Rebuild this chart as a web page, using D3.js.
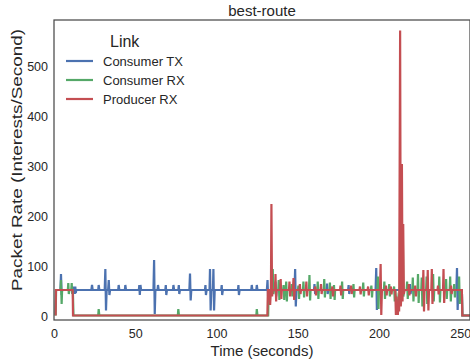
<!DOCTYPE html>
<html>
<head>
<meta charset="utf-8">
<script src="https://cdn.jsdelivr.net/npm/d3@7"></script>
<style>
  body { margin: 0; background: #fff; }
  svg { display: block; font-family: "Liberation Sans", Arial, sans-serif; }
</style>
</head>
<body>
<svg id="chart" width="470" height="362"></svg>
<script>
// Series, as [time (s), packet rate] vertices.
const consumerTx = [
  [1,53],[4,53],[4.3,85],[4.7,43],[5,53],[11,53],[11.3,60],[11.6,45],[11.9,60],[12.2,45],[12.5,60],[12.8,45],[13.1,60],[13.4,47],[13.7,53],
  [23,53],[23.4,63],[23.8,53],[27.2,53],[27.5,63],[27.9,53],
  [31.2,53],[31.6,95],[32,12],[32.4,53],[33.3,53],[33.7,73],[34.1,43],[34.5,53],
  [39.5,53],[39.8,63],[40.2,53],[43.6,53],[43.9,63],[44.3,53],
  [52.2,53],[52.5,63],[52.8,43],[53.2,63],[53.6,53],
  [61.2,53],[61.6,113],[62,5],[62.4,53],[63.7,53],[64,63],[64.4,53],
  [68.5,53],[68.8,63],[69.1,43],[69.5,53],[73.2,53],[73.5,63],[73.9,53],
  [76.5,53],[76.8,63],[77.1,45],[77.5,53],[83.3,53],[83.7,86],[84.1,32],[84.5,53],
  [92.9,53],[93.2,63],[93.5,43],[93.9,53],[95.7,53],[96,95],[96.4,12],[96.8,53],
  [97.8,53],[98.1,95],[98.5,12],[98.9,53],[102.9,53],[103.2,63],[103.5,43],[103.9,53],
  [113.2,53],[113.5,63],[113.8,43],[114.2,53],[121.4,53],[121.7,63],[122.1,53],
  [124.5,53],[124.8,63],[125.2,53],[131,53],[131.4,73],[131.8,35],[132.2,53],
  [136,53],[136.3,70],[136.7,40],[137,53],[148,53],[148.4,95],[148.8,20],[149.2,53],
  [160,53],[160.3,65],[160.7,45],[161,53],[167.7,53],[168,66],[168.4,45],[168.8,53],
  [181,53],[181.3,63],[181.7,45],[182,53],[197.9,53],[198.3,97],[198.7,13],[199.1,53],
  [218.7,53],[219,65],[219.4,45],[219.8,53],[247.6,53],[248,97],[248.4,13],[248.8,53],
  [251,53],[251.3,2],[257.5,2]
];

const consumerRx = [
  [1,2],[1.3,53],[4,53],[4.3,73],[4.7,25],[5,53],[8.5,53],[8.8,67],[9.1,45],[9.5,53],
  [10.6,53],[10.9,67],[11.2,45],[11.6,53],[12,2],[27.2,2],[27.5,15],[27.9,2],
  [76.2,2],[76.5,15],[76.9,2],[124.5,2],[124.8,15],[125.2,2],[131.8,2],[132.1,53],
  [134.2,53],[134.6,95],[135,45],[135.4,53],[138,53],[138.3,73],[138.7,33],[139,53],
  [141,53],[141.3,63],[141.7,33],[142,53],[142.6,53],[142.9,70],[143.3,30],[143.6,53],
  [146,53],[146.3,65],[146.7,40],[147,53],[150.1,53],[150.4,62],[150.8,35],[151.1,53],
  [153.2,53],[153.5,70],[153.9,38],[154.2,53],[156.9,53],[157.2,83],[157.6,32],[157.9,53],
  [162,53],[162.3,70],[162.7,35],[163,53],[166,53],[166.3,75],[166.7,38],[167,53],
  [169.5,53],[169.8,68],[170.2,35],[170.5,53],[172,53],[172.3,63],[172.7,33],[173,53],
  [177,53],[177.3,70],[177.7,35],[178,53],[184,53],[184.3,65],[184.7,38],[185,53],
  [190,53],[190.3,68],[190.7,40],[191,53],[195,53],[195.3,62],[195.7,38],[196,53],
  [199,53],[199.3,80],[199.7,15],[200,53],[203,53],[203.3,70],[203.7,35],[204,53],
  [206,53],[206.3,65],[206.7,40],[207,53],[209,53],[209.3,60],[209.7,30],[210,53],
  [211.2,3],[212,40],[213.5,30],[214.6,185],[215,40],[215.5,53],
  [217,53],[217.3,70],[217.7,35],[218,53],[220.5,53],[220.8,78],[221.2,30],[221.5,53],
  [223.7,53],[224,85],[224.4,27],[224.7,53],[226,53],[226.3,78],[226.7,20],[227,53],
  [229,53],[229.3,80],[229.7,25],[230,53],[233,53],[233.3,85],[233.7,30],[234,53],
  [236.8,53],[237.1,80],[237.5,28],[237.8,53],[241,53],[241.3,75],[241.7,35],[242,53],
  [243.5,53],[243.8,80],[244.2,30],[244.5,53],[246,53],[246.3,65],[246.7,38],[247,53],
  [249,53],[249.3,80],[249.7,25],[250,53],[251,53],[251.3,2],[257.5,2]
];

const producerRx = [
  [1,2],[1.2,53],[11.5,53],[11.7,2],[131.3,2],[131.6,53],[132.6,53],[133,23],[133.5,53],
  [133.8,225],[134.2,40],[134.6,53],[136,53],[136.3,85],[136.7,30],[137,53],
  [139.2,53],[139.5,75],[139.9,35],[140.2,53],[144.6,53],[144.9,70],[145.3,40],[145.6,53],
  [147,53],[147.4,77],[147.8,33],[148.2,53],[151,53],[151.3,65],[151.7,45],[152,53],
  [155,53],[155.3,70],[155.7,40],[156,53],[160.5,53],[160.8,60],[161.2,42],[161.5,53],
  [164,53],[164.3,65],[164.7,45],[165,53],[171,53],[171.3,60],[171.7,40],[172,53],
  [176,53],[176.3,62],[176.7,42],[177,53],[182.5,53],[182.8,62],[183.2,45],[183.5,53],
  [188,53],[188.3,60],[188.7,44],[189,53],[193,53],[193.3,60],[193.7,42],[194,53],
  [200.6,53],[201,105],[201.4,3],[201.8,53],[204,53],[204.3,62],[204.7,42],[205,53],
  [207,53],[207.3,60],[207.7,44],[208,53],
  [210,53],[210.4,3],[210.8,40],[211.2,20],[211.6,3],[212,30],[212.4,10],[213,572],
  [213.4,20],[213.8,40],[214.1,305],[214.5,30],[214.9,185],[215.3,45],[215.7,53],
  [218,53],[218.3,65],[218.7,42],[219,53],[222,53],[222.3,62],[222.7,40],[223,53],
  [227,53],[227.3,93],[227.7,10],[228,53],[229.7,53],[230,93],[230.4,12],[230.8,53],
  [232.2,53],[232.5,95],[232.9,25],[233.3,53],[236,53],[236.3,62],[236.7,44],[237,53],
  [239.4,53],[239.7,95],[240.1,27],[240.5,53],[244,53],[244.3,62],[244.7,45],[245,53],
  [251,53],[251.3,2],[257.5,2]
];

const seriesNames = ["Consumer TX", "Consumer RX", "Producer RX"];
const seriesColors = ["#4c72b0", "#55a868", "#c44e52"];
const xTicks = [0, 50, 100, 150, 200, 250];
const yTicks = [0, 100, 200, 300, 400, 500];

const svg = d3.select("#chart");
const margin = { top: 20, right: 0, bottom: 42, left: 54 };
const width = 470 - margin.left - margin.right;
const height = 362 - margin.top - margin.bottom;
const textColor = "#262626";

const x = d3.scaleLinear().domain([0, 256]).range([0, width]);
const y = d3.scaleLinear().domain([-7, 593]).range([height, 0]);

const g = svg.append("g").attr("transform", `translate(${margin.left},${margin.top})`);

svg.append("defs").append("clipPath").attr("id", "plot-clip")
  .append("rect").attr("width", width).attr("height", height);

// Axes: labels only, no tick marks (seaborn white style).
const xAxis = g.append("g").attr("transform", `translate(0,${height})`)
  .call(d3.axisBottom(x).tickValues(xTicks).tickSize(0).tickPadding(9));
const yAxis = g.append("g")
  .call(d3.axisLeft(y).tickValues(yTicks).tickSize(0).tickPadding(6));
[xAxis, yAxis].forEach(a => {
  a.select(".domain").remove();
  a.selectAll("text").attr("fill", textColor).style("font-size", "12.5px")
    .style("font-family", "Liberation Sans, Arial, sans-serif");
});

const line = d3.line().x(d => x(d[0])).y(d => y(d[1]));

const lines = g.append("g").attr("clip-path", "url(#plot-clip)");
[consumerTx, consumerRx, producerRx].forEach((data, i) => {
  lines.append("path")
    .datum(data)
    .attr("d", line)
    .attr("fill", "none")
    .attr("stroke", seriesColors[i])
    .attr("stroke-width", 2.2)
    .attr("stroke-linejoin", "miter");
});

// Frame around the plot.
g.append("rect")
  .attr("x", 0).attr("y", 0)
  .attr("width", width).attr("height", height)
  .attr("fill", "none")
  .attr("stroke", "#4a4a4a")
  .attr("stroke-width", 1.25);

svg.append("text")
  .attr("x", margin.left + width / 2).attr("y", 16)
  .attr("text-anchor", "middle")
  .attr("fill", textColor)
  .style("font-size", "15px")
  .text("best-route");

svg.append("text")
  .attr("x", margin.left + width / 2).attr("y", 356)
  .attr("text-anchor", "middle")
  .attr("fill", textColor)
  .style("font-size", "15px")
  .text("Time (seconds)");

// The y label in the picture is stretched along its length.
svg.append("text")
  .attr("transform", "translate(22,160) rotate(-90)")
  .attr("text-anchor", "middle")
  .attr("fill", textColor)
  .attr("textLength", 262)
  .attr("lengthAdjust", "spacingAndGlyphs")
  .style("font-size", "15.5px")
  .text("Packet Rate (Interests/Second)");

// Legend
const legend = svg.append("g").attr("transform", "translate(66,0)");
legend.append("text")
  .attr("x", 44).attr("y", 47)
  .attr("fill", textColor)
  .style("font-size", "16px")
  .text("Link");
seriesNames.forEach((name, i) => {
  const yPos = 61 + i * 19;
  legend.append("line")
    .attr("x1", 0).attr("x2", 27)
    .attr("y1", yPos).attr("y2", yPos)
    .attr("stroke", seriesColors[i])
    .attr("stroke-width", 2.2);
  legend.append("text")
    .attr("x", 37).attr("y", yPos + 5)
    .attr("fill", textColor)
    .style("font-size", "13px")
    .text(name);
});
</script>
</body>
</html>
